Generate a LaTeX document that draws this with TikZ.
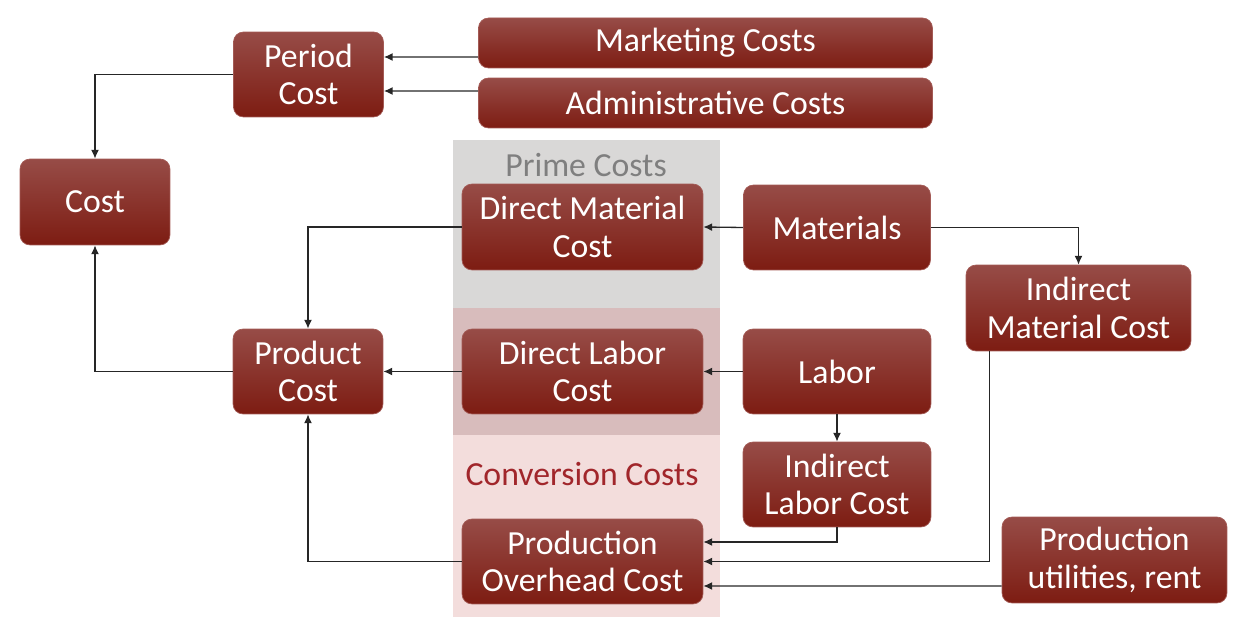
\documentclass[tikz,border=0pt]{standalone}
\usepackage{fontspec}
\setmainfont{Carlito}
\usepackage{tikz}
\usetikzlibrary{positioning,arrows.meta,calc}
\usepackage{xcolor}
\definecolor{boxtop}{HTML}{974C47}
\definecolor{boxmid}{HTML}{8A2117}
\definecolor{boxbot}{HTML}{7D1C12}
\definecolor{boxedge}{HTML}{A35A55}
\definecolor{primegray}{HTML}{D9D8D7}
\definecolor{primetext}{HTML}{7F7F7F}
\definecolor{laborpink}{HTML}{D8BCBC}
\definecolor{convpink}{HTML}{F3DDDC}
\definecolor{convtext}{HTML}{A1262B}

\begin{document}
\begin{tikzpicture}[
    x=0.02cm, y=-0.02cm,
    costbox/.style={draw=boxedge, line width=0.4pt, top color=boxtop, middle color=boxmid, bottom color=boxbot,
        rounded corners=0.2cm, align=center, text=white, inner sep=2pt,
        font=\fontsize{19.2}{21.5}\selectfont},
    flow/.style={-{Latex[length=5pt,width=4.5pt]}, line width=0.75pt, color=black!85},
    grouplabel/.style={font=\fontsize{19.2}{21.5}\selectfont},
]
\useasboundingbox (0,0) rectangle (1249,631);

% cost groups
\fill[primegray] (453,140) rectangle (720,308);
\fill[laborpink] (453,308) rectangle (720,435);
\fill[convpink] (453,435) rectangle (720,617);
\node[grouplabel, text=primetext] (prime) at (586,165) {Prime Costs};
\node[grouplabel, text=convtext] (conv) at (582,474) {Conversion Costs};

\node[costbox, minimum width=3cm, minimum height=1.7cm] (period) at (308.5,74.5) {Period\\Cost};
\node[costbox, minimum width=3cm, minimum height=1.72cm] (cost) at (95,202) {Cost};
\node[costbox, minimum width=9.08cm, minimum height=1cm] (marketing) at (705.5,43) {Marketing Costs};
\node[costbox, minimum width=9.08cm, minimum height=1cm] (admin) at (705.5,103) {Administrative Costs};

\node[costbox, minimum width=4.82cm, minimum height=1.72cm] (dmc) at (582.5,227) {Direct Material\\Cost};
\node[costbox, minimum width=3.74cm, minimum height=1.7cm] (materials) at (837,227.5) {Materials};
\node[costbox, minimum width=4.5cm, minimum height=1.72cm] (imc) at (1078.5,308) {Indirect\\Material Cost};

\node[costbox, minimum width=3cm, minimum height=1.7cm] (product) at (308,371.5) {Product\\Cost};
\node[costbox, minimum width=4.82cm, minimum height=1.7cm] (dlc) at (582.5,371.5) {Direct Labor\\Cost};
\node[costbox, minimum width=3.76cm, minimum height=1.7cm] (labor) at (837,371.5) {Labor};
\node[costbox, minimum width=3.76cm, minimum height=1.7cm] (ilc) at (837,484.5) {Indirect\\Labor Cost};

\node[costbox, minimum width=4.82cm, minimum height=1.7cm] (poc) at (582.5,561.5) {Production\\Overhead Cost};
\node[costbox, minimum width=4.5cm, minimum height=1.72cm] (utilities) at (1114.5,560) {Production\\utilities, rent};

% period side
\draw[flow] ([yshift=-0.28cm]marketing.west) -- ([yshift=0.35cm]period.east);
\draw[flow] ([yshift=0.24cm]admin.west) -- ([yshift=-0.33cm]period.east);
\draw[flow] (period.west) -| (cost.north);

% product side
\draw[flow] (product.west) -| (cost.south);
\draw[flow] (dmc.west) -| (product.north);
\draw[flow] (dlc.west) -- (product.east);
\draw[flow] (poc.west) -| (product.south);

\draw[flow] (materials.west) -- (dmc.east);
\draw[flow] (materials.east) -| (imc.north);
\draw[flow] (labor.west) -- (dlc.east);
\draw[flow] (labor.south) -- (ilc.north);

% overhead inputs
\draw[flow] (ilc.south) |- ([yshift=0.39cm]poc.east);
\draw[flow] ([xshift=0.48cm]imc.south west) |- (poc.east);
\draw[flow] ([yshift=-0.52cm]utilities.west) -- ([yshift=-0.49cm]poc.east);
\end{tikzpicture}
\end{document}
